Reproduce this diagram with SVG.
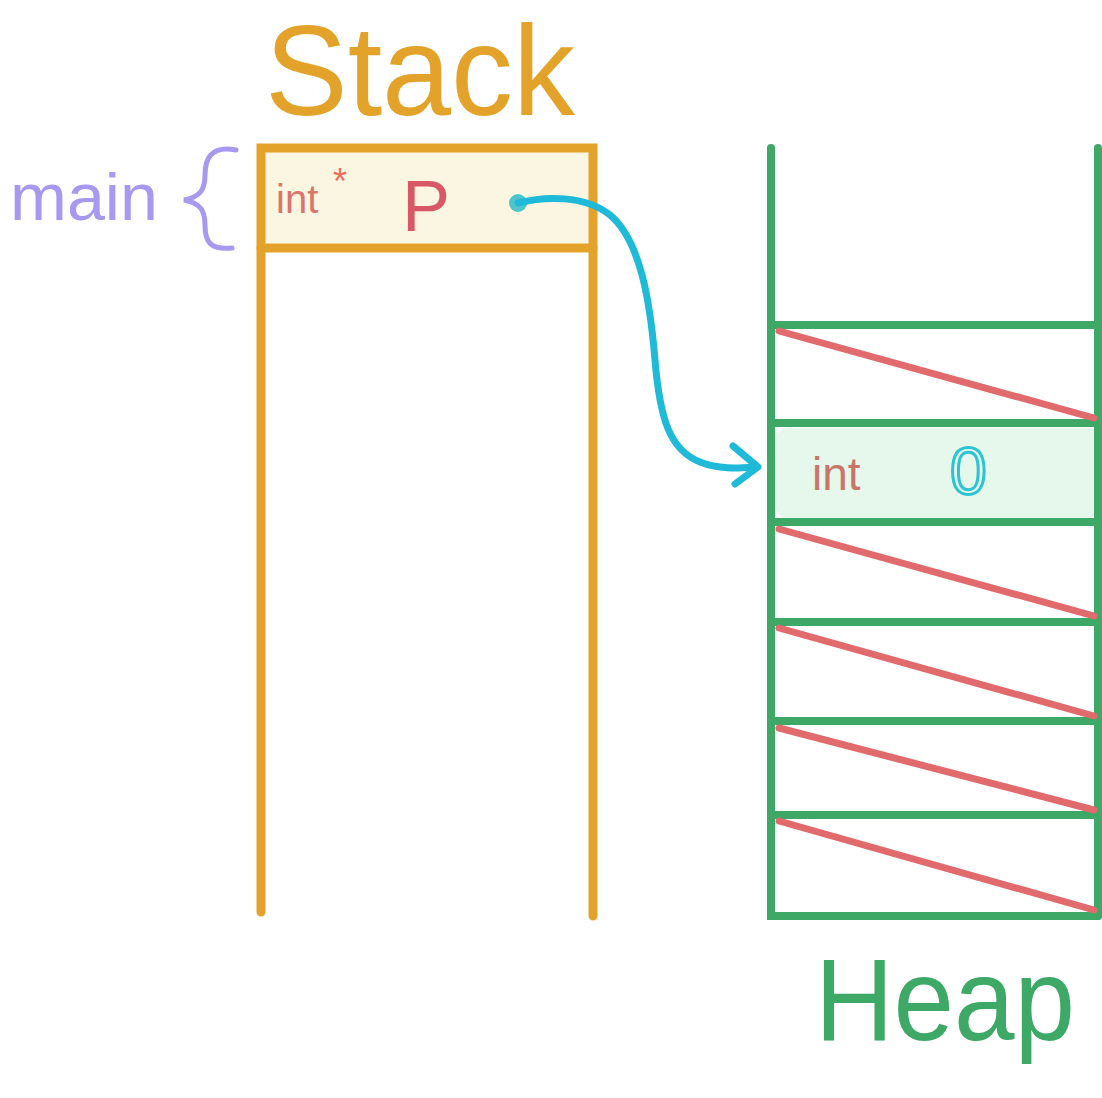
<svg xmlns="http://www.w3.org/2000/svg" width="1102" height="1098" viewBox="0 0 1102 1098">
<style>
.stk{stroke:#E3A32B;stroke-width:9;stroke-linecap:round;fill:none}
.hp{stroke:#3EA866;stroke-width:8;stroke-linecap:round;fill:none}
.red{stroke:#E06A6C;stroke-width:7;stroke-linecap:round}
.hand{font-family:"Liberation Sans","DejaVu Sans",sans-serif}
</style>
<rect width="1102" height="1098" fill="#ffffff"/>
<g id="stack">
  <text class="hand" x="265" y="115" font-size="128" fill="#E3A32B" textLength="310" lengthAdjust="spacingAndGlyphs">Stack</text>
  <rect x="264" y="152" width="326" height="94" rx="6" fill="#FBF6E1"/>
  <path class="stk" d="M261 912 V148 H593 V916"/>
  <line class="stk" x1="261" y1="248" x2="593" y2="248"/>
</g>
<g id="main-frame">
  <text class="hand" x="10" y="220" font-size="66" fill="#A898F0" textLength="148" lengthAdjust="spacingAndGlyphs">main</text>
  <path d="M236 150 C210 145 205 160 205 175 C205 190 200 197 184 200 C200 203 205 210 205 225 C205 242 210 250 232 248" fill="none" stroke="#A898F0" stroke-width="5" stroke-linecap="round"/>
</g>
<g id="var-p">
  <text class="hand" x="276" y="213" font-size="40" fill="#D9756C">int</text>
  <text class="hand" x="333" y="194" font-size="36" fill="#E8705A">*</text>
  <text class="hand" x="402" y="231" font-size="72" fill="#D95868">P</text>
</g>
<g id="heap">
  <rect x="776" y="428" width="322" height="91" rx="12" fill="#E6F8EC"/>
  <path class="hp" d="M771 148 V916 H1098"/>
  <line class="hp" x1="1098" y1="148" x2="1098" y2="916"/>
  <line class="hp" x1="771" y1="325" x2="1098" y2="325"/>
  <line class="hp" x1="771" y1="423" x2="1098" y2="423"/>
  <line class="hp" x1="771" y1="522" x2="1098" y2="522"/>
  <line class="hp" x1="771" y1="622" x2="1098" y2="622"/>
  <line class="hp" x1="771" y1="721" x2="1098" y2="721"/>
  <line class="hp" x1="771" y1="815" x2="1098" y2="815"/>
  <line class="red" x1="779" y1="331" x2="1094" y2="418"/>
  <line class="red" x1="779" y1="529" x2="1094" y2="616"/>
  <line class="red" x1="779" y1="628" x2="1094" y2="716"/>
  <line class="red" x1="779" y1="728" x2="1094" y2="810"/>
  <line class="red" x1="779" y1="821" x2="1094" y2="910"/>
  <text class="hand" x="812" y="490" font-size="46" fill="#C9766A">int</text>
  <text class="hand" x="950" y="494" font-size="66" fill="none" stroke="#2CC3D3" stroke-width="3">0</text>
  <text class="hand" x="815" y="1040" font-size="116" fill="#3EA866" textLength="260" lengthAdjust="spacingAndGlyphs">Heap</text>
</g>
<g id="connectors">
  <circle cx="518" cy="203" r="9" fill="#4CC6CC"/>
  <path d="M518 203 C545 196 585 195 610 215 C640 240 650 300 655 360 C660 420 670 450 700 462 C720 470 740 468 757 467" fill="none" stroke="#1FBAD8" stroke-width="7" stroke-linecap="round"/>
  <path d="M733 446 L758 467 L735 484" fill="none" stroke="#1FBAD8" stroke-width="7" stroke-linecap="round" stroke-linejoin="round"/>
</g>
</svg>
